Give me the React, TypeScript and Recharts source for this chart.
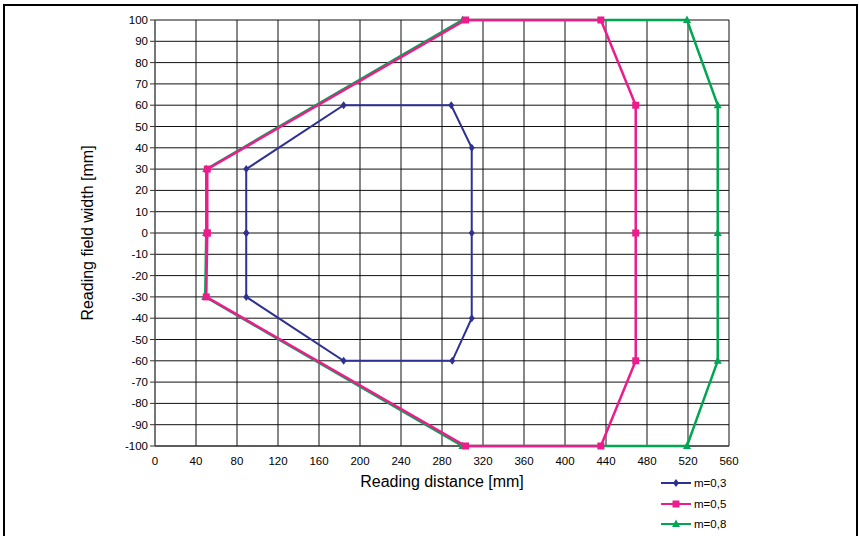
import { ScatterChart, Scatter, XAxis, YAxis, CartesianGrid, Label } from 'recharts';

const xTicks = [0, 40, 80, 120, 160, 200, 240, 280, 320, 360, 400, 440, 480, 520, 560];
const yTicks = [-100, -90, -80, -70, -60, -50, -40, -30, -20, -10, 0, 10, 20, 30, 40, 50, 60, 70, 80, 90, 100];

// reading distance / field width pairs, walked around each field outline
const dist03 = [89, 89, 184, 289, 309, 309, 309, 290, 184, 89, 89];
const width03 = [0, 30, 60, 60, 40, 0, -40, -60, -60, -30, 0];

const dist05 = [51, 51, 303, 435, 469, 469, 469, 435, 303, 50, 51];
const width05 = [0, 30, 100, 100, 60, 0, -60, -100, -100, -30, 0];

const dist08 = [50, 50, 300, 519, 549, 549, 549, 519, 300, 49, 50];
const width08 = [0, 30, 100, 100, 60, 0, -60, -100, -100, -30, 0];

const zip = (xs: number[], ys: number[]) => xs.map((x, i) => ({ x, y: ys[i] }));

const BLUE = '#2e3192';
const PINK = '#ec1c8c';
const GREEN = '#00a651';
const FONT = '"Liberation Sans", Arial, sans-serif';

const Diamond = (p: any) => (
    <path d={`M${p.cx},${p.cy - 4}L${p.cx + 3},${p.cy}L${p.cx},${p.cy + 4}L${p.cx - 3},${p.cy}Z`} fill={BLUE} />
);
const Square = (p: any) => <rect x={p.cx - 3.5} y={p.cy - 3.5} width={7} height={7} fill={PINK} />;
const Triangle = (p: any) => (
    <path d={`M${p.cx},${p.cy - 4.5}L${p.cx + 4},${p.cy + 3}L${p.cx - 4},${p.cy + 3}Z`} fill={GREEN} />
);

const legendItems = [
    { name: 'm=0,3', color: BLUE, marker: 'diamond' },
    { name: 'm=0,5', color: PINK, marker: 'square' },
    { name: 'm=0,8', color: GREEN, marker: 'triangle' },
];

function LegendBox() {
    return (
        <div style={{ position: 'absolute', left: 660, top: 473, fontFamily: FONT, fontSize: 11.5 }}>
            {legendItems.map(item => (
                <div key={item.name} style={{ display: 'flex', alignItems: 'center', height: 20.5 }}>
                    <svg width={33} height={12}>
                        <line x1={1} y1={6} x2={31} y2={6} stroke={item.color} strokeWidth={2} />
                        {item.marker === 'diamond' && <Diamond cx={16} cy={6} />}
                        {item.marker === 'square' && <Square cx={16} cy={6} />}
                        {item.marker === 'triangle' && <Triangle cx={16} cy={6} />}
                    </svg>
                    <span style={{ marginLeft: 1 }}>{item.name}</span>
                </div>
            ))}
        </div>
    );
}

export default function App() {
    return (
        <div style={{ position: 'fixed', left: 0, top: 0, width: 859, height: 536, overflow: 'hidden', background: '#fff' }}>
            <div style={{ position: 'absolute', left: 0, top: 0 }}>
                <ScatterChart width={859} height={536} margin={{ top: 20, right: 130, bottom: 0, left: 0 }}>
                    <CartesianGrid stroke="#111" strokeWidth={1} />
                    <XAxis
                        type="number"
                        dataKey="x"
                        domain={[0, 560]}
                        ticks={xTicks}
                        interval={0}
                        height={90}
                        tickLine={false}
                        axisLine={{ stroke: '#333' }}
                        tickMargin={5}
                        tick={{ fill: '#000', fontSize: 11.5, fontFamily: FONT }}
                    >
                        <Label value="Reading distance [mm]" position="center" dy={-10} fill="#000" fontSize={16} fontFamily={FONT} />
                    </XAxis>
                    <YAxis
                        type="number"
                        dataKey="y"
                        domain={[-100, 100]}
                        ticks={yTicks}
                        interval={0}
                        width={155}
                        tickSize={5}
                        tickLine={{ stroke: '#333' }}
                        axisLine={{ stroke: '#666' }}
                        tick={{ fill: '#000', fontSize: 11.5, fontFamily: FONT }}
                    >
                        <Label value="Reading field width [mm]" position="center" angle={-90} dx={10} fill="#000" fontSize={16} fontFamily={FONT} />
                    </YAxis>
                    <Scatter data={zip(dist03, width03)} line={{ stroke: BLUE, strokeWidth: 2 }} shape={Diamond} isAnimationActive={false} />
                    <Scatter data={zip(dist08, width08)} line={{ stroke: GREEN, strokeWidth: 2.5 }} shape={Triangle} isAnimationActive={false} />
                    <Scatter data={zip(dist05, width05)} line={{ stroke: PINK, strokeWidth: 2.5 }} shape={Square} isAnimationActive={false} />
                </ScatterChart>
            </div>
            <LegendBox />
            <div
                style={{
                    position: 'absolute',
                    left: 3,
                    top: 4,
                    width: 851,
                    height: 600,
                    border: '2px solid #000',
                    pointerEvents: 'none',
                    zIndex: 5,
                }}
            />
        </div>
    );
}
